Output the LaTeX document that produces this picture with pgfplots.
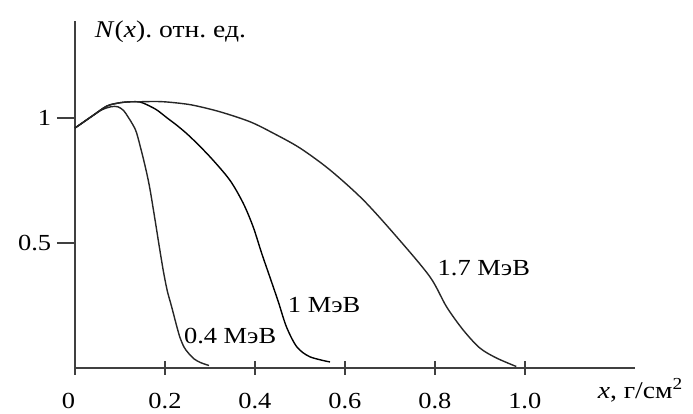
\documentclass[border=0pt]{standalone}
\usepackage{fontspec}
\setmainfont{Liberation Serif}[FakeStretch=1.15]
\usepackage{pgfplots}
\pgfplotsset{compat=1.18}
\begin{document}
\begin{tikzpicture}
\path[use as bounding box] (-75pt,-46pt) rectangle (618pt,368pt);
\begin{axis}[
  at={(0pt,0pt)}, anchor=south west,
  scale only axis, width=560pt, height=347pt,
  xmin=0, xmax=1.245, ymin=0, ymax=1.388,
  axis lines=left, axis line style={-, line width=1.4pt, black!75},
  clip=false,
  xtick={0,0.2,0.4,0.6,0.8,1.0},
  xticklabels={\makebox[0pt][r]{0},0.2,0.4,0.6,0.8,1.0},
  ytick={0.5,1},
  yticklabels={0.5,1},
  x tick style={line width=1.4pt, black!75, /pgfplots/major tick length=14pt},
  y tick style={line width=1.4pt, black!75, /pgfplots/major tick length=18pt},
  xtick align=center, ytick align=outside,
  tick label style={font=\fontsize{23}{27}\selectfont, text=black},
  /pgf/number format/assume math mode=true,
  xticklabel style={anchor=north, yshift=-20pt},
  yticklabel style={anchor=east, xshift=-16pt},
  cycle list={{black!85, no markers}},
  every axis plot/.append style={line width=1.4pt, smooth, tension=0.5},
]
% 0.4 MeV
\addplot coordinates {(0,0.96) (0.02,0.985) (0.04,1.01) (0.06,1.033) (0.08,1.045) (0.095,1.045) (0.108,1.03) (0.118,1.004) (0.128,0.975) (0.137,0.94) (0.151,0.844) (0.16,0.775) (0.167,0.712) (0.178,0.592) (0.187,0.49) (0.196,0.392) (0.205,0.31) (0.215,0.244) (0.225,0.175) (0.233,0.124) (0.242,0.085) (0.251,0.062) (0.265,0.036) (0.28,0.021) (0.298,0.01)};
% 1 MeV
\addplot coordinates {(0,0.96) (0.02,0.985) (0.04,1.01) (0.071,1.048) (0.1,1.061) (0.125,1.065) (0.144,1.064) (0.16,1.053) (0.182,1.032) (0.205,1.0) (0.227,0.97) (0.256,0.925) (0.3,0.845) (0.344,0.752) (0.374,0.659) (0.396,0.565) (0.415,0.459) (0.433,0.365) (0.452,0.265) (0.47,0.165) (0.493,0.085) (0.522,0.045) (0.567,0.024)};
% 1.7 MeV
\addplot coordinates {(0,0.96) (0.02,0.985) (0.04,1.01) (0.071,1.048) (0.1,1.061) (0.125,1.065) (0.144,1.065) (0.18,1.066) (0.211,1.063) (0.26,1.052) (0.322,1.025) (0.389,0.985) (0.44,0.94) (0.5,0.88) (0.567,0.792) (0.641,0.672) (0.715,0.525) (0.789,0.365) (0.826,0.245) (0.863,0.152) (0.9,0.08) (0.937,0.04) (0.981,0.006)};
\node[anchor=west, inner sep=0pt, font=\fontsize{23}{27}\selectfont] at (axis cs:0.242,0.128) {0.4 МэВ};
\node[anchor=west, inner sep=0pt, font=\fontsize{23}{27}\selectfont] at (axis cs:0.473,0.25) {1 МэВ};
\node[anchor=west, inner sep=0pt, font=\fontsize{23}{27}\selectfont] at (axis cs:0.806,0.40) {1.7 МэВ};
\node[anchor=west, inner sep=0pt, font=\fontsize{24}{28}\selectfont] at (axis cs:0.044,1.344) {\textit{N}(\textit{x}).~отн.~ед.};
\node[anchor=west, inner sep=0pt, font=\fontsize{24}{28}\selectfont] at (axis cs:1.162,-0.09) {\textit{x}, г/см\textsuperscript{2}};
\end{axis}
\end{tikzpicture}
\end{document}
